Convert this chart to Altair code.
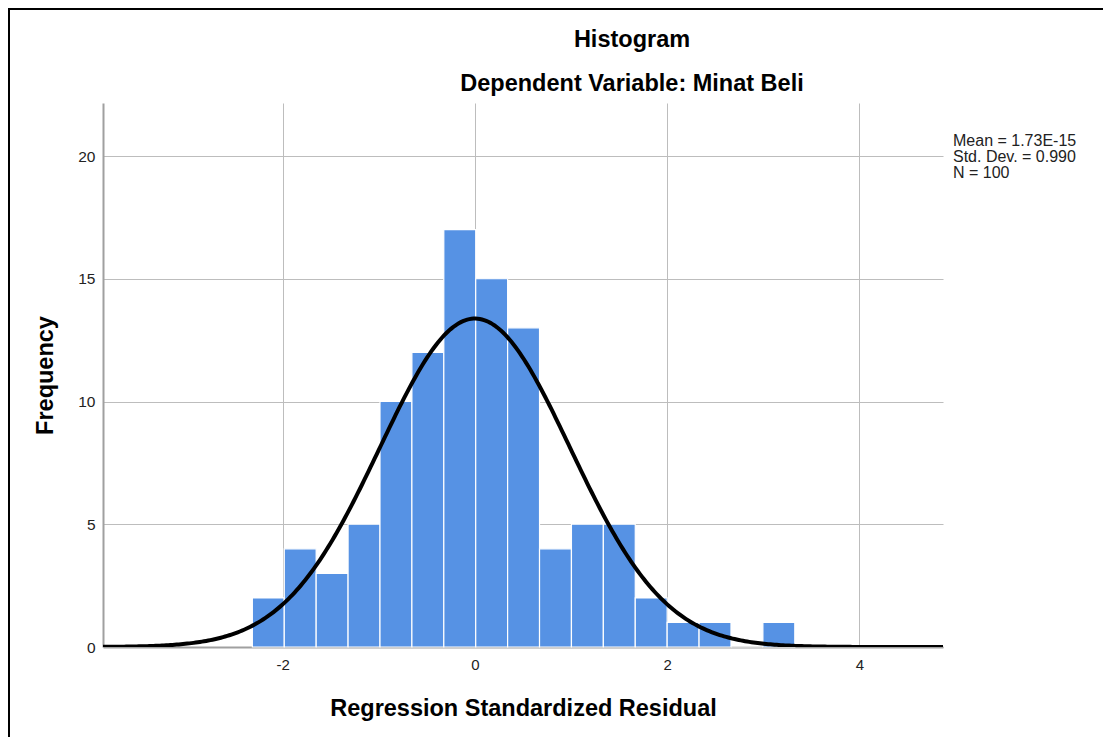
import altair as alt
import pandas as pd
import numpy as np

# ---- data ----
counts = [2, 4, 3, 5, 10, 12, 17, 15, 13, 4, 5, 5, 2, 1, 1, 0, 1]
bin_start = -2.316
bin_width = 0.332
mean_val = 1.73e-15
sd_val = 0.990
n_val = 100
x_domain = [-3.87, 4.87]
y_domain = [0, 22.16]
x_ticks = [-2, 0, 2, 4]
y_ticks = [0, 5, 10, 15, 20]
stats_lines = ["Mean = 1.73E-15", "Std. Dev. = 0.990", "N = 100"]

FONT = "Liberation Sans"

bars = pd.DataFrame({
    "lo": [bin_start + i * bin_width for i in range(len(counts))],
    "hi": [bin_start + (i + 1) * bin_width for i in range(len(counts))],
    "count": counts,
    "zero": [0] * len(counts),
})

xs = np.linspace(x_domain[0], x_domain[1], 400)
curve = pd.DataFrame({
    "x": xs,
    "y": n_val * bin_width * np.exp(-0.5 * ((xs - mean_val) / sd_val) ** 2) / (sd_val * np.sqrt(2 * np.pi)),
})

xscale = alt.Scale(domain=x_domain, nice=False, zero=False)
yscale = alt.Scale(domain=y_domain, nice=False)

xaxis = alt.Axis(values=x_ticks, title="Regression Standardized Residual", grid=True,
                 labelExpr="toString(datum.value)",
                 labelFontSize=15, titleFontSize=23.5, titleFontWeight="bold",
                 labelPadding=10, titlePadding=24)
yaxis = alt.Axis(values=y_ticks, title="Frequency", grid=True,
                 labelExpr="toString(datum.value)",
                 labelFontSize=15.5, titleFontSize=23.5, titleFontWeight="bold",
                 labelPadding=8, titlePadding=20)

hist = alt.Chart(bars).mark_rect(color="#5692e4", stroke="white", strokeWidth=1.2).encode(
    x=alt.X("lo:Q", scale=xscale, axis=xaxis),
    x2="hi:Q",
    y=alt.Y("count:Q", scale=yscale, axis=yaxis),
    y2="zero:Q",
)

line = alt.Chart(curve).mark_line(color="black", strokeWidth=4, clip=True).encode(
    x=alt.X("x:Q", scale=xscale),
    y=alt.Y("y:Q", scale=yscale),
)

titles = alt.Chart(pd.DataFrame({"t": ["Histogram", "Dependent Variable: Minat Beli"],
                                 "py": [-63, -19]})).mark_text(
    font=FONT, fontSize=23.5, fontWeight="bold", align="center", baseline="middle", color="black"
).encode(
    text="t:N",
    x=alt.value(529),
    y=alt.Y("py:Q", scale=None),
)

stats = alt.Chart(pd.DataFrame({"t": stats_lines, "py": [38, 54, 70]})).mark_text(
    font=FONT, fontSize=16, align="left", baseline="middle", color="#222222"
).encode(
    text="t:N",
    x=alt.value(850),
    y=alt.Y("py:Q", scale=None),
)

frame_left = alt.Chart(pd.DataFrame({"a": [0]})).mark_rule(color="black", strokeWidth=2).encode(
    x=alt.value(-94), y=alt.value(-95), y2=alt.value(700)
)
frame_top = alt.Chart(pd.DataFrame({"a": [0]})).mark_rule(color="black", strokeWidth=2).encode(
    x=alt.value(-95), x2=alt.value(1020), y=alt.value(-94)
)

chart = alt.layer(hist, line, titles, stats, frame_left, frame_top).properties(
    width=840, height=544,
    autosize=alt.AutoSizeParams(type="none"),
    padding={"left": 95, "top": 95, "right": 160, "bottom": 90},
).configure(
    font=FONT,
    background="white",
).configure_view(
    stroke=None,
).configure_axis(
    gridColor="#bdbdbd", gridWidth=1,
    domainColor="#a0a0a0", domainWidth=2,
    ticks=False,
    labelColor="#222222", titleColor="black",
    labelFont=FONT, titleFont=FONT,
)

chart.save("out.html", embed_options={"renderer": "svg", "actions": False})
